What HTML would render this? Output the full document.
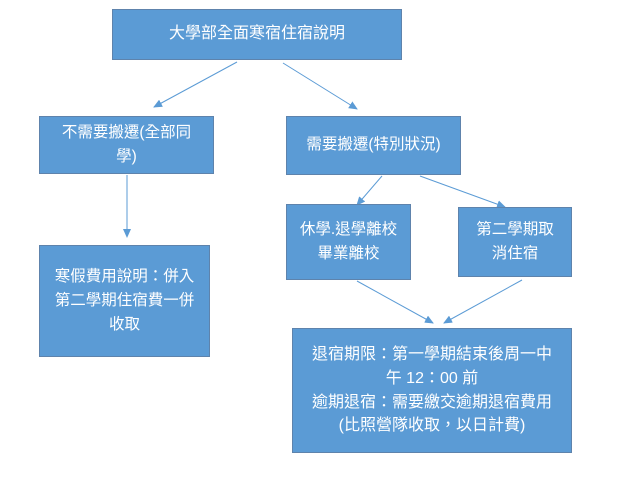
<!DOCTYPE html>
<html>
<head>
<meta charset="utf-8">
<style>
  html, body { margin:0; padding:0; background:#ffffff; }
  body { width:628px; height:484px; position:relative; overflow:hidden;
         font-family:"Liberation Sans","Noto Sans CJK TC","Noto Sans CJK SC",sans-serif; }
  .box { position:absolute; box-sizing:border-box; background:#5B9BD5;
         border:1.5px solid #5E83AC; color:#ffffff; font-size:15.5px;
         display:flex; align-items:center; justify-content:center; text-align:center;
         line-height:24.5px; }
  svg { position:absolute; left:0; top:0; }
</style>
</head>
<body>
<svg width="628" height="484" viewBox="0 0 628 484">
  <defs>
    <marker id="ah" markerWidth="9" markerHeight="8" refX="8" refY="4" orient="auto" markerUnits="userSpaceOnUse">
      <path d="M0,0 L9,4 L0,8 Z" fill="#5B9BD5"/>
    </marker>
  </defs>
  <g stroke="#5B9BD5" stroke-width="1" fill="none">
    <line x1="237" y1="62" x2="154" y2="107" marker-end="url(#ah)"/>
    <line x1="283" y1="63" x2="357" y2="109" marker-end="url(#ah)"/>
    <line x1="127" y1="175" x2="127" y2="237" marker-end="url(#ah)"/>
    <line x1="382" y1="176" x2="357" y2="205" marker-end="url(#ah)"/>
    <line x1="420" y1="176" x2="505" y2="207" marker-end="url(#ah)"/>
    <line x1="357" y1="281" x2="433" y2="323" marker-end="url(#ah)"/>
    <line x1="522" y1="280" x2="444" y2="323" marker-end="url(#ah)"/>
  </g>
</svg>

<div class="box" style="left:112px;top:9px;width:290px;height:51px;font-size:16px;">大學部全面寒宿住宿說明</div>

<div class="box" style="left:39px;top:116px;width:175px;height:58px;">不需要搬遷(全部同<br>學)</div>

<div class="box" style="left:39px;top:245px;width:171px;height:112px;line-height:24px;">寒假費用說明：併入<br>第二學期住宿費一併<br>收取</div>

<div class="box" style="left:286px;top:116px;width:175px;height:59px;">需要搬遷(特別狀況)</div>

<div class="box" style="left:286px;top:204px;width:125px;height:76px;">休學.退學離校<br>畢業離校</div>

<div class="box" style="left:458px;top:207px;width:114px;height:70px;">第二學期取<br>消住宿</div>

<div class="box" style="left:292px;top:328px;width:280px;height:125px;line-height:23.7px;font-size:16px;">退宿期限：第一學期結束後周一中<br>午 12：00 前<br>逾期退宿：需要繳交逾期退宿費用<br>(比照營隊收取，以日計費)</div>
</body>
</html>
